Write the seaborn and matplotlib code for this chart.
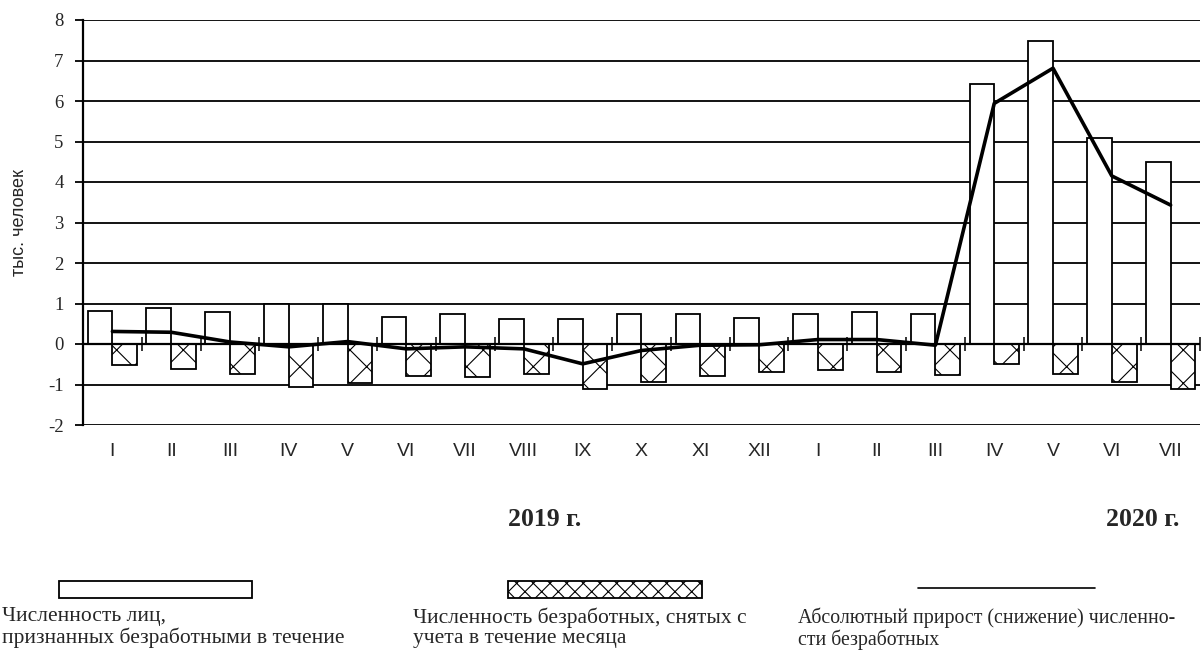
import matplotlib
matplotlib.use("Agg")
import matplotlib.pyplot as plt
import seaborn as sns
import pandas as pd
from matplotlib.patches import Rectangle
from matplotlib.lines import Line2D

months = ["I", "II", "III", "IV", "V", "VI", "VII", "VIII", "IX", "X", "XI", "XII",
          "I", "II", "III", "IV", "V", "VI", "VII"]
years = ["2019"] * 12 + ["2020"] * 7
recognized = [0.81, 0.89, 0.78, 0.98, 0.98, 0.66, 0.75, 0.61, 0.61, 0.73, 0.73, 0.64,
              0.73, 0.78, 0.73, 6.41, 7.49, 5.09, 4.49]
removed = [-0.51, -0.62, -0.74, -1.05, -0.96, -0.78, -0.82, -0.74, -1.12, -0.95, -0.79, -0.68,
           -0.65, -0.68, -0.76, -0.49, -0.73, -0.94, -1.10]
growth = [0.31, 0.29, 0.05, -0.07, 0.06, -0.12, -0.07, -0.12, -0.49, -0.16, -0.03, -0.02,
          0.11, 0.11, -0.03, 5.94, 6.81, 4.15, 3.43]

keys = [f"{y}-{m}" for y, m in zip(years, months)]
df = pd.DataFrame({
    "key": keys * 2,
    "value": recognized + removed,
    "series": ["rec"] * len(keys) + ["rem"] * len(keys),
})

sns.set_style("white")
plt.rcParams["hatch.linewidth"] = 0.8
plt.rcParams["axes.unicode_minus"] = False

fig = plt.figure(figsize=(12.04, 6.55), dpi=100)
ax = fig.add_axes([83 / 1204, 1 - 425 / 655, 1117 / 1204, 405 / 655])

sns.barplot(data=df, x="key", y="value", hue="series", order=keys,
            hue_order=["rec", "rem"], dodge=True, width=0.84,
            palette=["white", "white"], edgecolor="black", linewidth=1.3,
            legend=False, ax=ax, errorbar=None)
for bar in ax.containers[1]:
    bar.set_hatch("x")
for c in ax.containers:
    for bar in c:
        bar.set_zorder(3)

ax.plot(range(len(keys)), growth, color="black", lw=2.6, zorder=5)

ax.set_ylim(-2, 8)
ax.set_xlim(-0.5, len(keys) - 0.5)
ax.set_yticks(range(-2, 9))
for yv in range(-2, 9):
    ax.axhline(yv, color="black", lw=1.3, zorder=1)
ax.axhline(0, color="black", lw=1.6, zorder=4)

for s in ["top", "right", "bottom"]:
    ax.spines[s].set_visible(False)
ax.spines["left"].set_color("black")
ax.spines["left"].set_linewidth(1.6)

ax.tick_params(axis="y", which="major", left=True, length=6, width=1.3, color="black",
               labelsize=13.5, pad=8)
for lab in ax.get_yticklabels():
    lab.set_fontfamily("Liberation Serif")
ax.set_xticks(range(len(keys)))
ax.set_xticklabels(months, fontfamily="Liberation Sans", fontsize=14)
ax.tick_params(axis="x", length=0, pad=13)
ax.set_xlabel("")
ax.set_ylabel("тыс. человек", fontfamily="Liberation Sans", fontsize=13, labelpad=14)

sec = ax.secondary_xaxis(0.2)
sec.set_xticks([i + 0.5 for i in range(len(keys))])
sec.tick_params(axis="x", direction="inout", length=10, width=1.3, labelbottom=False)
sec.set_xticklabels([])
sec.spines["bottom"].set_visible(False)

fig.text(545 / 1204, 1 - 519 / 655, "2019 г.", fontfamily="Liberation Serif",
         fontweight="bold", fontsize=18.5, ha="center", va="center")
fig.text(1143 / 1204, 1 - 519 / 655, "2020 г.", fontfamily="Liberation Serif",
         fontweight="bold", fontsize=18.5, ha="center", va="center")

# legend-like keys at the bottom
fig.add_artist(Rectangle((59 / 1204, 1 - 598 / 655), 193 / 1204, 17 / 655,
                         transform=fig.transFigure, facecolor="white",
                         edgecolor="black", lw=1.3))
fig.add_artist(Rectangle((508 / 1204, 1 - 598 / 655), 194 / 1204, 17 / 655,
                         transform=fig.transFigure, facecolor="white",
                         edgecolor="black", lw=1.3, hatch="xx"))
fig.add_artist(Line2D([918 / 1204, 1095 / 1204], [1 - 588 / 655, 1 - 588 / 655],
                      transform=fig.transFigure, color="black", lw=1.2))

legend_font = dict(fontfamily="Liberation Serif", va="top", ha="left", linespacing=1.12)
fig.text(2 / 1204, 1 - 607 / 655, "Численность лиц,\nпризнанных безработными в течение",
         fontsize=15.5, **legend_font)
fig.text(413 / 1204, 1 - 607 / 655, "Численность безработных, снятых с\nучета в течение месяца",
         fontsize=15.5, **legend_font)
fig.text(798 / 1204, 1 - 607 / 655,
         "Абсолютный прирост (снижение) численно-\nсти безработных",
         fontsize=14.3, **legend_font)

fig.savefig("out.png", dpi=100, facecolor="white")
